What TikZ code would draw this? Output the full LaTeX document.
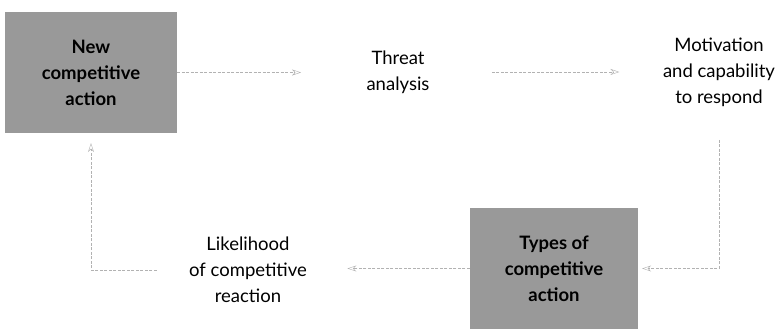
\documentclass[tikz,border=0pt]{standalone}
\usepackage{fontspec}
\setmainfont{Lato}
\usetikzlibrary{arrows.meta,positioning}

\begin{document}
\begin{tikzpicture}[x=1pt,y=1pt,
  stagebox/.style={fill=black!40,minimum width=172pt,minimum height=121pt,align=center,
    font=\bfseries\fontsize{18.5}{26}\selectfont},
  stagetext/.style={align=center,font=\fontsize{18.5}{26}\selectfont},
  flow/.style={draw=gray!60,thin,dash pattern=on 3pt off 1.5pt,-{Stealth[open,length=9pt,width=6pt]}}]
  \useasboundingbox (0,0) rectangle (780,329);
  % stages of the loop
  \node[stagebox] (newact) at (91,256.5) {New\\competitive\\action};
  \node[stagetext] (threat) at (398,257) {Threat\\analysis};
  \node[stagetext] (motiv) at (719,257) {Motivation\\and capability\\to respond};
  \node[stagebox,minimum width=168pt] (types) at (554,60.5) {Types of\\competitive\\action};
  \node[stagetext] (likely) at (248,59) {Likelihood\\of competitive\\reaction};
  % connectors
  \draw[flow,shorten >=62pt] (newact.east) -- (threat.west |- newact.east);
  \draw[flow,shorten <=59pt,shorten >=40pt] (threat.east) -- (motiv.west);
  \draw[flow,shorten <=30pt,shorten >=4pt] (motiv.south) |- (types.east);
  \draw[flow,shorten >=37pt] (types.west) -- (likely.east |- types.west);
  \draw[flow,shorten <=29pt,shorten >=10pt] (likely.west) -| (newact.south);
\end{tikzpicture}
\end{document}
